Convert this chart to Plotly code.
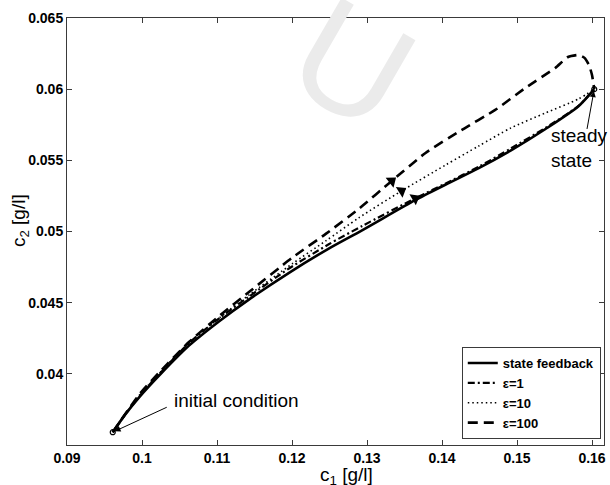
import plotly.graph_objects as go

# ---- data ----
sf_x = [0.0961, 0.0977, 0.0997, 0.1025, 0.1063, 0.1103, 0.1142, 0.1196, 0.1249, 0.1294,
        0.1364, 0.1405, 0.1449, 0.1492, 0.1538, 0.1582, 0.1603]
sf_y = [0.0359, 0.0371, 0.0384, 0.0400, 0.0420, 0.0437, 0.0452, 0.0471, 0.0488, 0.0501,
        0.0522, 0.0533, 0.05445, 0.0557, 0.0572, 0.0588, 0.0600]

e1_x = [0.0961, 0.0977, 0.0997, 0.1025, 0.1063, 0.1103, 0.1142, 0.1196, 0.1249, 0.1294,
        0.1364, 0.1405, 0.1449, 0.1492, 0.1538, 0.1582, 0.1603]
e1_y = [0.0359, 0.0371, 0.03846, 0.0401, 0.04218, 0.0439, 0.0454, 0.0474, 0.0491, 0.0504,
        0.05232, 0.05338, 0.05455, 0.05584, 0.05728, 0.05882, 0.0600]

e10_x = [0.0961, 0.0977, 0.0997, 0.1025, 0.1063, 0.1103, 0.1143, 0.1200, 0.1245, 0.1289,
         0.1346, 0.1405, 0.1449, 0.1492, 0.1538, 0.1582, 0.1603]
e10_y = [0.0359, 0.03712, 0.03853, 0.04014, 0.04218, 0.04393, 0.04555, 0.04772, 0.04934, 0.05096,
         0.05285, 0.05468, 0.05601, 0.05728, 0.05833, 0.05931, 0.0600]

e100_x = [0.0961, 0.0977, 0.0997, 0.1025, 0.1063, 0.1103, 0.1143, 0.1200, 0.1245, 0.1289,
          0.1333, 0.1378, 0.1426, 0.1471, 0.1511, 0.1551, 0.1568, 0.1582, 0.1590, 0.1596,
          0.1600, 0.1603]
e100_y = [0.0359, 0.03712, 0.0386, 0.04021, 0.04225, 0.04407, 0.04576, 0.04815, 0.04983, 0.05159,
          0.05355, 0.05552, 0.05713, 0.05854, 0.06008, 0.06149, 0.06226, 0.0624, 0.0622, 0.0617,
          0.0610, 0.0600]

x_ticks = [0.09, 0.10, 0.11, 0.12, 0.13, 0.14, 0.15, 0.16]
x_tick_text = ["0.09", "0.1", "0.11", "0.12", "0.13", "0.14", "0.15", "0.16"]
y_ticks = [0.04, 0.045, 0.05, 0.055, 0.06, 0.065]
y_tick_text = ["0.04", "0.045", "0.05", "0.055", "0.06", "0.065"]

series_names = ["state feedback", "\u03b5<b>=1</b>", "\u03b5<b>=10</b>", "\u03b5<b>=100</b>"]

FONT = "Liberation Sans, Arial, Helvetica, sans-serif"
BLACK = "#000000"

fig = go.Figure()

fig.add_trace(go.Scatter(x=sf_x, y=sf_y, mode="lines", name="<b>" + series_names[0] + "</b>",
                         line=dict(color=BLACK, width=2.6, dash="solid",
                                   shape="spline", smoothing=0.7)))
fig.add_trace(go.Scatter(x=e1_x, y=e1_y, mode="lines", name=series_names[1],
                         line=dict(color=BLACK, width=2.2, dash="7px,3px,2px,3px",
                                   shape="spline", smoothing=0.7)))
fig.add_trace(go.Scatter(x=e10_x, y=e10_y, mode="lines", name=series_names[2],
                         line=dict(color=BLACK, width=1.6, dash="1.5px,3px",
                                   shape="spline", smoothing=0.7)))
fig.add_trace(go.Scatter(x=e100_x, y=e100_y, mode="lines", name=series_names[3],
                         line=dict(color=BLACK, width=2.6, dash="10px,6px",
                                   shape="spline", smoothing=0.5)))

# direction arrowheads on the trajectories
ai = 10
for xs, ys, ang in [(e100_x, e100_y, -38), (e10_x, e10_y, -32), (e1_x, e1_y, -30)]:
    fig.add_trace(go.Scatter(x=[xs[ai]], y=[ys[ai]], mode="markers", showlegend=False,
                             hoverinfo="skip",
                             marker=dict(symbol="triangle-right", size=11, angle=ang,
                                         color=BLACK, line=dict(width=0))))

# start / end markers
fig.add_trace(go.Scatter(x=[sf_x[0], sf_x[-1]], y=[sf_y[0], sf_y[-1]], mode="markers",
                         showlegend=False, hoverinfo="skip",
                         marker=dict(symbol="circle-open", size=5, color=BLACK,
                                     line=dict(width=1.2))))

# faint watermark letter (clipped at the top in the reference)
fig.add_annotation(x=0.532, y=1.135, xref="paper", yref="paper", text="U", showarrow=False,
                   font=dict(family=FONT, size=150, color="#ebebeb"), textangle=30)

# annotations
fig.add_annotation(x=sf_x[0], y=sf_y[0], ax=0.1035, ay=0.0377, xref="x", yref="y",
                   axref="x", ayref="y", text="", showarrow=True, arrowhead=2,
                   arrowsize=1.2, arrowwidth=1, arrowcolor=BLACK, standoff=2)
fig.add_annotation(x=0.1040, y=0.0381, xref="x", yref="y", text="initial condition",
                   showarrow=False, xanchor="left", yanchor="middle",
                   font=dict(family=FONT, size=19, color=BLACK))
fig.add_annotation(x=sf_x[-1], y=sf_y[-1], ax=0.1593, ay=0.0571, xref="x", yref="y",
                   axref="x", ayref="y", text="", showarrow=True, arrowhead=2,
                   arrowsize=1.2, arrowwidth=1, arrowcolor=BLACK, standoff=2)
fig.add_annotation(x=0.1543, y=0.0559, xref="x", yref="y", text="steady<br>state",
                   showarrow=False, xanchor="left", yanchor="middle", align="left",
                   font=dict(family=FONT, size=19, color=BLACK))

# axis titles
fig.add_annotation(x=0.52, y=-0.072, xref="paper", yref="paper",
                   text="c<sub>1</sub> [g/l]", showarrow=False, yanchor="middle",
                   font=dict(family=FONT, size=19, color=BLACK))
fig.add_annotation(x=-0.087, y=0.525, xref="paper", yref="paper",
                   text="c<sub>2</sub> [g/l]", showarrow=False, textangle=-90,
                   xanchor="center", yanchor="middle",
                   font=dict(family=FONT, size=19, color=BLACK))

axis_common = dict(showline=True, linecolor="#3a3a3a", linewidth=1, mirror="ticks",
                   ticks="inside", ticklen=5, tickcolor="#3a3a3a", tickwidth=1,
                   showgrid=False, zeroline=False,
                   tickfont=dict(family=FONT, size=14, color=BLACK, weight="bold"))

fig.update_xaxes(range=[0.09, 0.1616], tickvals=x_ticks, ticktext=x_tick_text, **axis_common)
fig.update_yaxes(range=[0.035, 0.065], tickvals=y_ticks, ticktext=y_tick_text, **axis_common)

fig.update_layout(
    width=610, height=485,
    margin=dict(l=67, r=4, t=18, b=40),
    plot_bgcolor="white", paper_bgcolor="white",
    font=dict(family=FONT, color=BLACK),
    legend=dict(x=0.994, y=0.014, xanchor="right", yanchor="bottom",
                bgcolor="white", bordercolor="#3a3a3a", borderwidth=1,
                font=dict(family=FONT, size=13, color=BLACK, weight="bold"),
                itemwidth=30, tracegroupgap=0),
)

fig.write_html("out.html", config={"displayModeBar": False},
               post_script="document.body.style.margin='0';document.body.style.overflow='hidden';")
